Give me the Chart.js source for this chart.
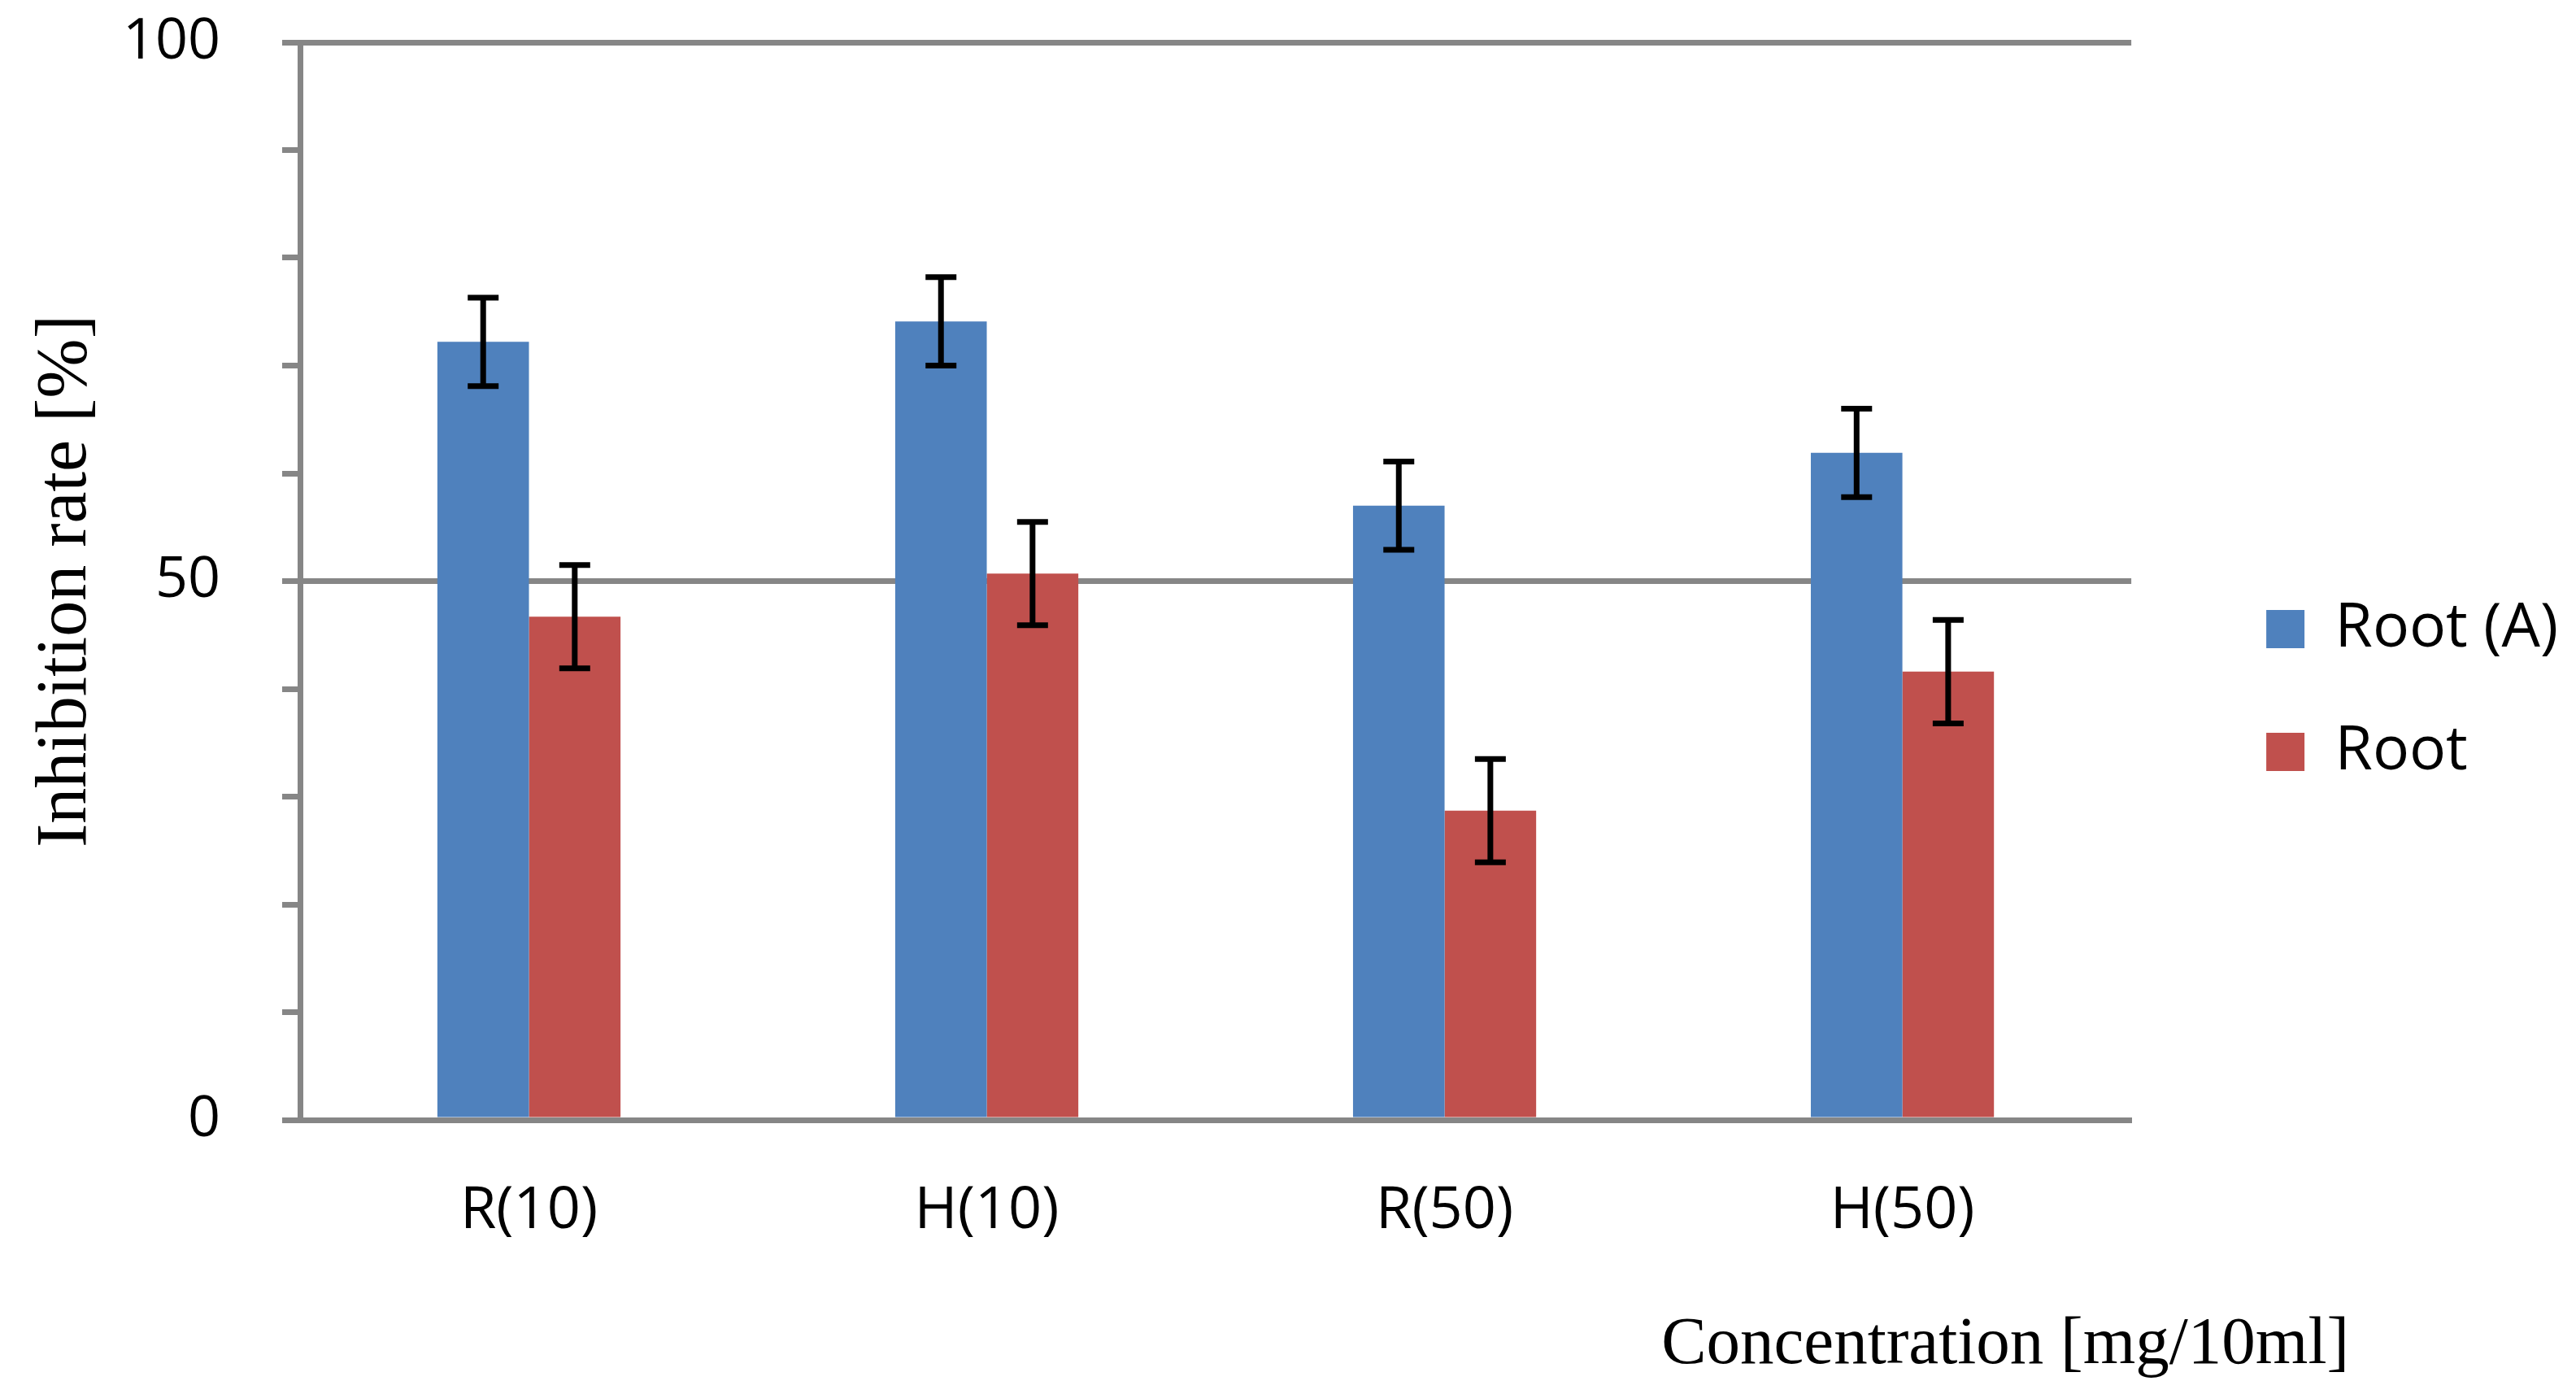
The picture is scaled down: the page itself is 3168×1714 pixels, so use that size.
<!DOCTYPE html>
<html><head><meta charset="utf-8">
<script src="https://cdn.jsdelivr.net/npm/chart.js@4"></script>
<style>html,body{margin:0;padding:0;background:#fff;} canvas{display:block;}</style>
</head><body>
<canvas id="c" width="3168" height="1714"></canvas>
<script>
const categories = ['R(10)', 'H(10)', 'R(50)', 'H(50)'];
const seriesNames = ['Root (A)', 'Root'];
const rootAValues = [72.2, 74.1, 57.0, 61.9];
const rootAErrors = [4.1, 4.1, 4.1, 4.1];
const rootValues = [46.7, 50.7, 28.7, 41.6];
const rootErrors = [4.8, 4.8, 4.8, 4.8];
const yTickLabels = [0, 50, 100];
const yAxisTitle = 'Inhibition rate [%]';
const xAxisTitle = 'Concentration [mg/10ml]';

const GREY = '#868686';
const BLUE = '#4F81BD';
const RED = '#C0504D';

const errorBarPlugin = {
  id: 'errorBars',
  afterDatasetsDraw(chart) {
    const ctx = chart.ctx;
    const yScale = chart.scales.y;
    ctx.save();
    ctx.strokeStyle = '#000';
    ctx.lineWidth = 7;
    ctx.lineCap = 'butt';
    chart.data.datasets.forEach((ds, di) => {
      const meta = chart.getDatasetMeta(di);
      meta.data.forEach((bar, i) => {
        const v = ds.data[i], e = ds.errors[i];
        const yt = yScale.getPixelForValue(v + e);
        const yb = yScale.getPixelForValue(v - e);
        const x = bar.x, hw = 19;
        ctx.beginPath();
        ctx.moveTo(x, yt - 3.5); ctx.lineTo(x, yb + 3.5);
        ctx.moveTo(x - hw, yt); ctx.lineTo(x + hw, yt);
        ctx.moveTo(x - hw, yb); ctx.lineTo(x + hw, yb);
        ctx.stroke();
      });
    });
    ctx.restore();
  }
};

const xTitlePlugin = {
  id: 'xTitle',
  afterDraw(chart) {
    const ctx = chart.ctx;
    const a = chart.chartArea;
    ctx.save();
    ctx.fillStyle = '#000';
    ctx.font = '83px "Liberation Serif"';
    ctx.textAlign = 'right';
    ctx.textBaseline = 'alphabetic';
    ctx.fillText(xAxisTitle, a.right + 268, a.bottom + 299);
    ctx.restore();
  }
};

new Chart(document.getElementById('c'), {
  type: 'bar',
  data: {
    labels: categories,
    datasets: [
      { label: seriesNames[0], data: rootAValues, errors: rootAErrors, backgroundColor: BLUE, borderWidth: 0 },
      { label: seriesNames[1], data: rootValues, errors: rootErrors, backgroundColor: RED, borderWidth: 0 }
    ]
  },
  options: {
    responsive: false,
    devicePixelRatio: 1,
    animation: false,
    events: [],
    layout: { padding: { left: 0, top: 52, right: 12, bottom: 68 } },
    datasets: { bar: { categoryPercentage: 0.4, barPercentage: 1.0 } },
    plugins: {
      tooltip: { enabled: false },
      legend: {
        position: 'right',
        labels: {
          color: '#000',
          font: { family: '"Open Sans"', size: 75 },
          boxWidth: 47,
          boxHeight: 47,
          padding: 76
        }
      }
    },
    scales: {
      x: {
        z: 1,
        grid: { display: false, drawTicks: false },
        border: { display: true, color: GREY, width: 7 },
        ticks: { color: '#000', font: { family: '"Open Sans"', size: 72 }, padding: 69, maxRotation: 0 },
        afterFit(s) { s.height = 1714 - 68 - 1377; }
      },
      y: {
        min: 0, max: 100,
        ticks: {
          stepSize: 10,
          color: '#000',
          font: { family: '"Open Sans"', size: 70 },
          padding: 76,
          callback: (v) => yTickLabels.includes(v) ? String(v) : ''
        },
        grid: {
          color: (c) => (c.tick && (c.tick.value === 50 || c.tick.value === 100)) ? GREY : 'rgba(0,0,0,0)',
          tickColor: GREY,
          lineWidth: 7,
          tickWidth: 7,
          tickLength: 22,
          drawTicks: true
        },
        border: { display: true, color: GREY, width: 7 },
        title: {
          display: true,
          text: yAxisTitle,
          color: '#000',
          font: { family: '"Liberation Serif"', size: 88, lineHeight: 1.2 },
          padding: { top: 29, bottom: 0 }
        },
        afterFit(s) { s.width = 369; s.paddingTop = 0; s.paddingBottom = 0; }
      },
      yPad: {
        position: 'right',
        display: true,
        grid: { display: false, drawTicks: false },
        border: { display: false },
        ticks: { display: false },
        afterFit(s) { s.width = 90; }
      }
    }
  },
  plugins: [errorBarPlugin, xTitlePlugin]
});
</script>
</body></html>
